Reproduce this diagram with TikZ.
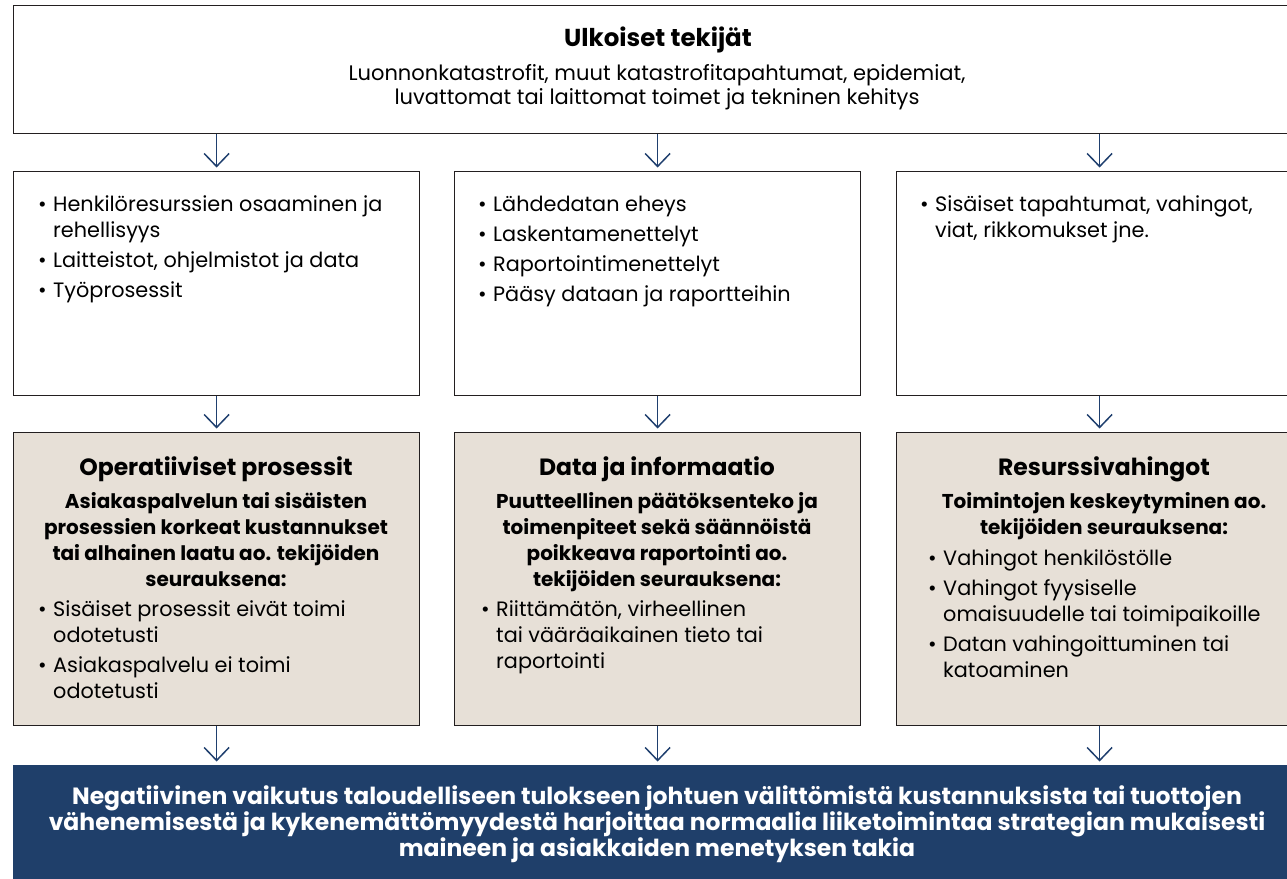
\documentclass[tikz,border=0pt]{standalone}
\usepackage{fontspec}
\setmainfont{Poppins}
\usetikzlibrary{arrows.meta}
\definecolor{navy}{HTML}{1F3F6A}
\definecolor{beige}{HTML}{E7E0D7}
\definecolor{edge}{HTML}{231F20}
\definecolor{arrowc}{HTML}{1F3F6E}
\newcommand\fl{\rule{0pt}{20pt}}
\newcommand\bul{\makebox[15pt][l]{•}}
\newcommand\ind{\hspace*{15pt}}
\tikzset{
  box/.style={draw=edge, line width=1.2pt, anchor=north west, inner sep=0pt},
  whitebox/.style={box, fill=white},
  beigebox/.style={box, fill=beige},
  navybox/.style={fill=navy, anchor=north west, inner sep=0pt},
  arr/.style={draw=arrowc, line width=1.5pt, -{Straight Barb[length=13pt,width=25pt,line width=1.5pt]}, shorten >=3.5pt},
  txt/.style={inner sep=0pt, text=black},
  body/.style={txt, font=\fontsize{20.8}{26}\selectfont},
  lst/.style={body, anchor=north west, align=left},
  ttl/.style={txt, anchor=north, font=\bfseries\fontsize{23.5}{26}\selectfont},
  sub/.style={txt, anchor=north, align=center, font=\bfseries\fontsize{20}{26}\selectfont},
}
\begin{document}
\begin{tikzpicture}[x=1pt,y=-1pt]
\useasboundingbox (0,0) rectangle (1287,878);
% boxes
\node[whitebox, minimum width=1290pt, minimum height=128pt] (top) at (13,5) {};
\node[whitebox, minimum width=406pt, minimum height=224pt] (m1) at (13,171) {};
\node[whitebox, minimum width=406pt, minimum height=224pt] (m2) at (454,171) {};
\node[whitebox, minimum width=406pt, minimum height=224pt] (m3) at (896,171) {};
\node[beigebox, minimum width=406pt, minimum height=293pt] (b1) at (13,432) {};
\node[beigebox, minimum width=406pt, minimum height=293pt] (b2) at (454,432) {};
\node[beigebox, minimum width=406pt, minimum height=293pt] (b3) at (896,432) {};
\node[navybox, minimum width=1290pt, minimum height=125pt] (bot) at (13,765) {};
% arrows
\draw[arr] (top.south -| m1.north) -- (m1.north);
\draw[arr] (top.south -| m2.north) -- (m2.north);
\draw[arr] (top.south -| m3.north) -- (m3.north);
\draw[arr] (m1.south) -- (b1.north);
\draw[arr] (m2.south) -- (b2.north);
\draw[arr] (m3.south) -- (b3.north);
\draw[arr] (b1.south) -- (b1.south |- bot.north);
\draw[arr] (b2.south) -- (b2.south |- bot.north);
\draw[arr] (b3.south) -- (b3.south |- bot.north);
% top text
\node[ttl, font=\bfseries\fontsize{24.5}{26}\selectfont] (toptitle) at (658,26) {\fl Ulkoiset tekijät};
\node[body, anchor=north, align=center, font=\fontsize{21}{24}\selectfont] (toptext) at (657,60)
  {\fl Luonnonkatastrofit, muut katastrofitapahtumat, epidemiat,\\luvattomat tai laittomat toimet ja tekninen kehitys};
% middle lists
\node[lst] (l1) at (38,191) {\fl\bul Henkilöresurssien osaaminen ja\\\ind rehellisyys\\[4pt]\bul Laitteistot, ohjelmistot ja data\\[4pt]\bul Työprosessit};
\node[lst] (l2) at (478,191) {\fl\bul Lähdedatan eheys\\[4pt]\bul Laskentamenettelyt\\[4pt]\bul Raportointimenettelyt\\[4pt]\bul Pääsy dataan ja raportteihin};
\node[lst] (l3) at (920,191) {\fl\bul Sisäiset tapahtumat, vahingot,\\\ind viat, rikkomukset jne.};
% beige titles
\node[ttl] (t1) at (216,455) {\fl Operatiiviset prosessit};
\node[ttl] (t2) at (657,455) {\fl Data ja informaatio};
\node[ttl] (t3) at (1104,455) {\fl Resurssivahingot};
\node[sub] (s1) at (216,488) {\fl Asiakaspalvelun tai sisäisten\\prosessien korkeat kustannukset\\tai alhainen laatu ao. tekijöiden\\seurauksena:};
\node[sub] (s2) at (657,488) {\fl Puutteellinen päätöksenteko ja\\toimenpiteet sekä säännöistä\\poikkeava raportointi ao.\\tekijöiden seurauksena:};
\node[sub] (s3) at (1104,488) {\fl Toimintojen keskeytyminen ao.\\tekijöiden seurauksena:};
\node[lst] (p1) at (38,596) {\fl\bul Sisäiset prosessit eivät toimi\\\ind odotetusti\\[4pt]\bul Asiakaspalvelu ei toimi\\\ind odotetusti};
\node[lst] (p2) at (481,596) {\fl\bul Riittämätön, virheellinen\\\ind tai vääräaikainen tieto tai\\\ind raportointi};
\node[lst] (p3) at (928,545) {\fl\bul Vahingot henkilöstölle\\[4pt]\bul Vahingot fyysiselle\\\ind omaisuudelle tai toimipaikoille\\[4pt]\bul Datan vahingoittuminen tai\\\ind katoaminen};
% bottom
\node[txt, anchor=north, align=center, text=white, font=\bfseries\fontsize{23.5}{26}\selectfont] (bottext) at (657,784)
  {\fl Negatiivinen vaikutus taloudelliseen tulokseen johtuen välittömistä kustannuksista tai tuottojen\\vähenemisestä ja kykenemättömyydestä harjoittaa normaalia liiketoimintaa strategian mukaisesti\\maineen ja asiakkaiden menetyksen takia};
\end{tikzpicture}
\end{document}
